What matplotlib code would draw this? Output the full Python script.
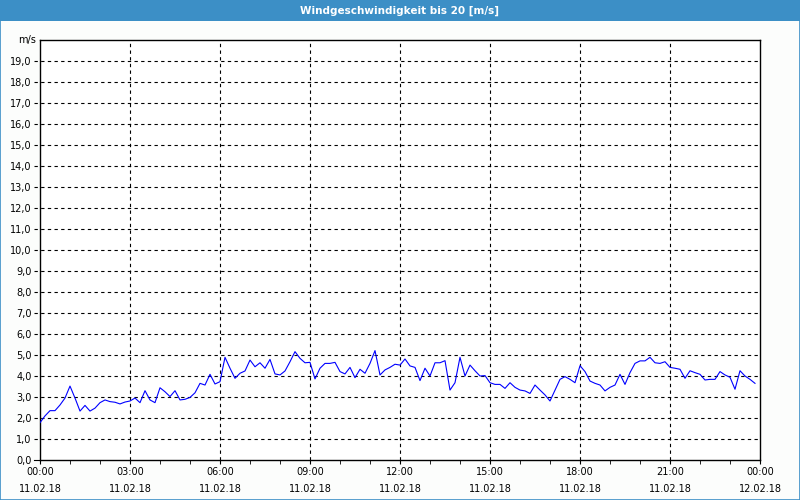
import numpy as np
import pandas as pd
import matplotlib
matplotlib.use("Agg")
import matplotlib.pyplot as plt
import matplotlib.dates as mdates
from matplotlib.patches import Rectangle

# Windgeschwindigkeit, 10-Minuten-Werte am 11.02.18
speed = [
    1.78, 2.10, 2.35, 2.35, 2.62, 2.95, 3.52, 2.95, 2.33, 2.60, 2.33, 2.47,
    2.73, 2.86, 2.78, 2.75, 2.67, 2.76, 2.81, 2.95, 2.73, 3.30, 2.86, 2.73,
    3.44, 3.25, 3.02, 3.30, 2.86, 2.89, 2.98, 3.20, 3.65, 3.57, 4.08, 3.62,
    3.73, 4.89, 4.37, 3.89, 4.13, 4.24, 4.76, 4.44, 4.63, 4.37, 4.79, 4.10,
    4.05, 4.24, 4.68, 5.16, 4.84, 4.63, 4.65, 3.86, 4.37, 4.60, 4.60, 4.65,
    4.21, 4.10, 4.41, 3.92, 4.32, 4.13, 4.60, 5.21, 4.05, 4.29, 4.41, 4.56,
    4.52, 4.81, 4.48, 4.41, 3.78, 4.37, 4.00, 4.63, 4.63, 4.73, 3.33, 3.68,
    4.89, 4.00, 4.52, 4.25, 4.00, 4.02, 3.68, 3.60, 3.60, 3.41, 3.68, 3.46,
    3.33, 3.29, 3.17, 3.57, 3.33, 3.10, 2.81, 3.33, 3.84, 3.97, 3.84, 3.68,
    4.49, 4.21, 3.76, 3.65, 3.57, 3.29, 3.46, 3.57, 4.08, 3.60, 4.16, 4.60,
    4.72, 4.72, 4.89, 4.63, 4.60, 4.68, 4.41, 4.37, 4.32, 3.89, 4.25, 4.16,
    4.08, 3.81, 3.84, 3.84, 4.21, 4.05, 3.94, 3.37, 4.25, 4.00, 3.84, 3.65,
]
times = pd.date_range("2018-02-11 00:00", periods=len(speed), freq="10min")
x_start = pd.Timestamp("2018-02-11 00:00")
x_end = pd.Timestamp("2018-02-12 00:00")
y_ticks = np.arange(0, 20, 1)

title = "Windgeschwindigkeit bis 20 [m/s]"
bar_blue = "#3c8fc6"

fig = plt.figure(figsize=(8, 5), dpi=100, facecolor="#fcfdfc")

# Titelleiste und Rahmen
fig.patches.append(Rectangle((0, 0.958), 1, 0.042, transform=fig.transFigure,
                             facecolor=bar_blue, edgecolor="none", zorder=0))
fig.patches.append(Rectangle((0.0006, 0.001), 0.9988, 0.998, transform=fig.transFigure,
                             facecolor="none", edgecolor=bar_blue, lw=1.2, zorder=1))
fig.text(0.5, 0.979, title, color="white", ha="center", va="center",
         fontsize=7.5, fontweight="bold", family="DejaVu Sans")

ax = fig.add_axes([0.05, 0.08, 0.90, 0.84])
ax.set_facecolor("white")
ax.plot(times, speed, color="#0000ff", lw=0.8, zorder=3)

ax.set_xlim(x_start, x_end)
ax.set_ylim(0, 20)

# Gitter (gestrichelt, links etwas über die Achse hinaus)
for v in y_ticks[1:]:
    ax.axhline(v, xmin=-0.009, xmax=1, color="black", ls=(0, (3, 3)), lw=0.8,
               clip_on=False, zorder=1)
ax.axhline(0, xmin=-0.009, xmax=0, color="black", lw=0.8, clip_on=False)
ax.xaxis.set_major_locator(mdates.HourLocator(byhour=range(0, 24, 3)))
ax.xaxis.set_minor_locator(mdates.HourLocator())
ax.xaxis.set_major_formatter(mdates.DateFormatter("%H:%M\n%d.%m.%y"))
for t in pd.date_range("2018-02-11 03:00", periods=7, freq="3h"):
    ax.axvline(t, color="black", ls=(0, (3, 3)), lw=0.8, zorder=1)

ax.set_yticks(y_ticks)
ax.set_yticklabels([f"{v:.1f}".replace(".", ",") for v in y_ticks])
ax.tick_params(axis="y", length=0, pad=6, labelsize=7)
ax.tick_params(axis="x", which="major", length=3, pad=2, labelsize=7)
ax.tick_params(axis="x", which="minor", length=3)
for lbl in ax.get_xticklabels():
    lbl.set_linespacing(1.9)

for s in ax.spines.values():
    s.set_linewidth(1.0)
    s.set_color("black")

ax.text(-0.006, 1.0, "m/s", transform=ax.transAxes, ha="right", va="center",
        fontsize=7)

fig.savefig("out.png", dpi=100, facecolor=fig.get_facecolor())
